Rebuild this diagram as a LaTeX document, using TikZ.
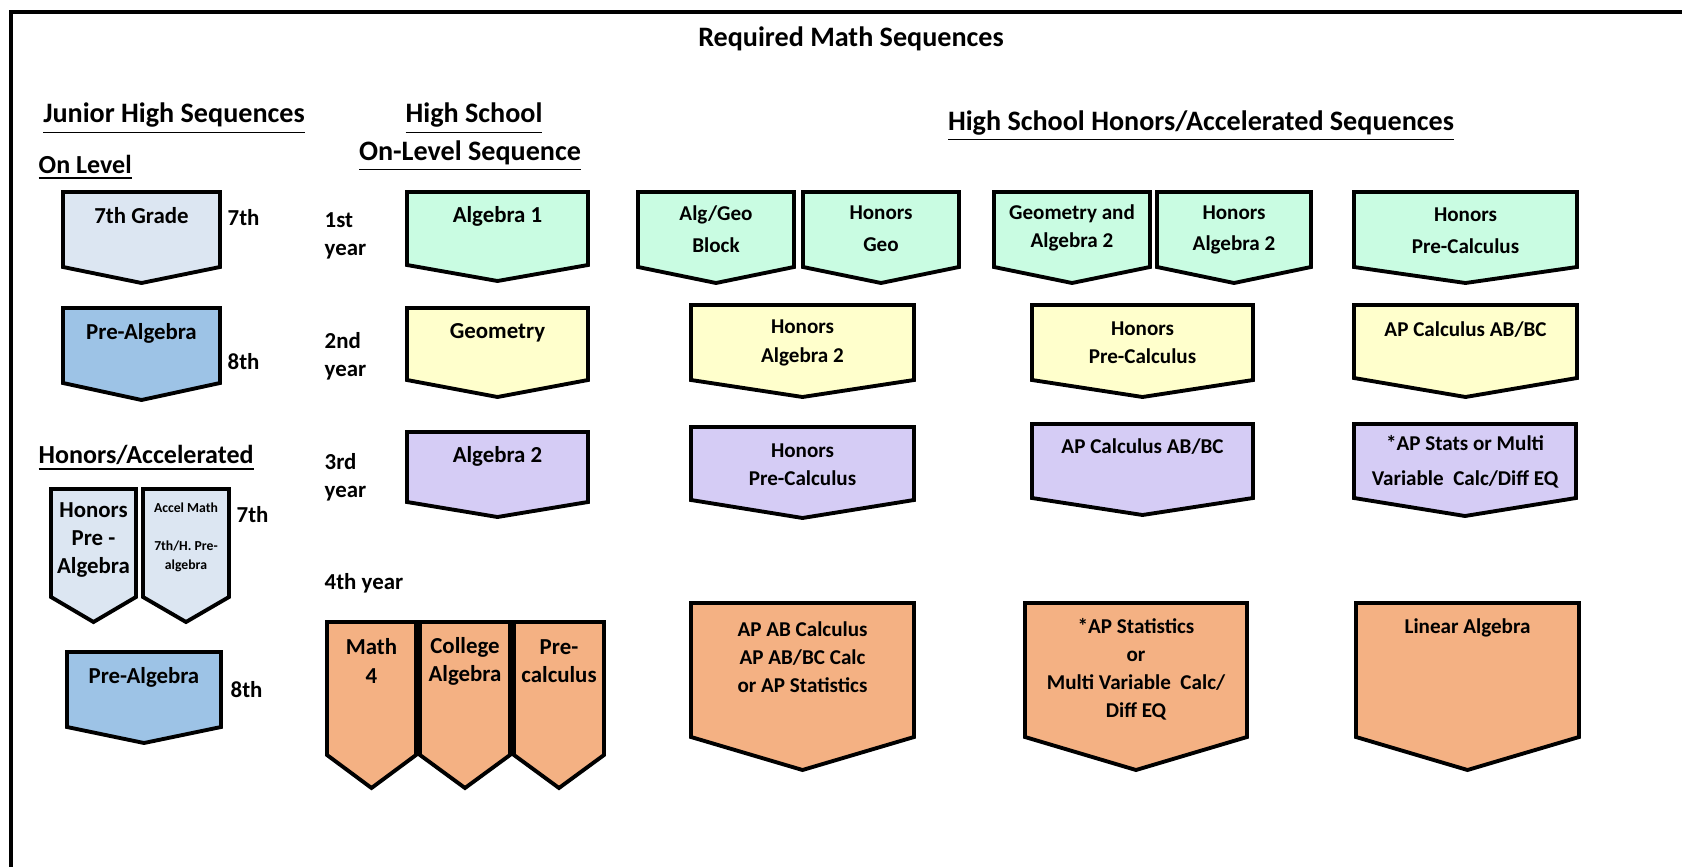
\documentclass[tikz,border=0pt]{standalone}
\usepackage{fontspec}
\setmainfont{Carlito}
\usepackage{tikz}
\usetikzlibrary{positioning}

\definecolor{lblue}{HTML}{DCE6F2}
\definecolor{mblue}{HTML}{9DC3E6}
\definecolor{mint}{HTML}{C9FCE2}
\definecolor{lyellow}{HTML}{FFFFCC}
\definecolor{lpurple}{HTML}{D5CCF5}
\definecolor{lorange}{HTML}{F4B183}

\tikzset{
  boxline/.style={draw=black, line width=1.1pt, line join=miter},
  boxtext/.style={align=center, inner sep=0pt, font=\bfseries\fontsize{6.5}{8}\selectfont},
  smalltext/.style={boxtext, font=\bfseries\fontsize{6}{8}\selectfont},
  yeartext/.style={anchor=west, align=left, inner sep=0pt, font=\bfseries\fontsize{6.5}{8}\selectfont},
  headtext/.style={anchor=base, inner sep=0pt, font=\bfseries\fontsize{8}{9}\selectfont},
  subhead/.style={anchor=base west, inner sep=0pt, font=\bfseries\fontsize{7.4}{9}\selectfont}
}

% name, fill, left, right, top, side bottom, tip, text y, text
\newcommand{\seqbox}[9]{%
  \draw[boxline, fill=#2] (#3,#5) -- (#4,#5) -- (#4,#6) -- ({(#3+#4)/2},#7) -- (#3,#6) -- cycle;
  \node[boxtext] (#1) at ({(#3+#4)/2},#8) {#9};
}
\newcommand{\honbox}[9]{%
  \draw[boxline, fill=#2] (#3,#5) -- (#4,#5) -- (#4,#6) -- ({(#3+#4)/2},#7) -- (#3,#6) -- cycle;
  \node[smalltext] (#1) at ({(#3+#4)/2},#8) {#9};
}

\begin{document}
\begin{tikzpicture}[x=0.01cm, y=-0.01cm]
	\useasboundingbox (0,0) rectangle (1682,867);
	\draw[line width=1.2pt] (11,867) -- (11,12) -- (1682,12);

	\node(title)	[headtext] at (851,47) {Required Math Sequences};
	\node(jhs)	[headtext] at (174,123) {\underline{Junior High Sequences}};
	\node(hs)	[headtext] at (474,123) {\underline{High School}};
	\node(onseq)	[headtext] at (470,160) {\underline{On-Level Sequence}};
	\node(honseq)	[headtext] at (1201,130) {\underline{High School Honors/Accelerated Sequences}};
	\node(onlevel)	[subhead] at (38,173) {\underline{On Level}};
	\node(honacc)	[subhead] at (38,463) {\underline{Honors/Accelerated}};

	\node(g7a)	[yeartext] at (227,218) {7th};
	\node(g8a)	[yeartext] at (227,362) {8th};
	\node(g7b)	[yeartext] at (236,515) {7th};
	\node(g8b)	[yeartext] at (230,690) {8th};
	\node(y1)	[yeartext] at (324,236) {1st\\year};
	\node(y2)	[yeartext] at (324,356) {2nd\\year};
	\node(y3)	[yeartext] at (324,477) {3rd\\year};
	\node(y4)	[yeartext] at (324,583) {4th year};

	\seqbox{sevgrade}{lblue}{63}{220}{192}{267}{283}{216}{7th Grade}
	\seqbox{prealga}{mblue}{63}{220}{308}{383}{400}{333}{Pre-Algebra}
	\seqbox{hprealg}{lblue}{51}{136}{489}{597}{622}{540}{Honors\\Pre -\\Algebra}
	\draw[boxline, fill=lblue] (143,489) -- (229,489) -- (229,597) -- (186,622) -- (143,597) -- cycle;
	\node(accel)	[boxtext, font=\bfseries\fontsize{3.9}{5.4}\selectfont] at (186,537) {Accel Math\\[5.4pt]7th/H. Pre-\\algebra};
	\seqbox{prealgb}{mblue}{67}{221}{652}{727}{743}{677}{Pre-Algebra}

	\seqbox{algone}{mint}{407}{588}{192}{265}{281}{216}{Algebra 1}
	\seqbox{geom}{lyellow}{407}{588}{308}{380}{397}{333}{Geometry}
	\seqbox{algtwo}{lpurple}{407}{588}{432}{502}{517}{456}{Algebra 2}
	\seqbox{mathfour}{lorange}{327}{416}{622}{755}{788}{661}{Math\\4}
	\seqbox{colalg}{lorange}{420}{510}{622}{755}{788}{661}{College\\Algebra}
	\seqbox{precalc}{lorange}{514}{604}{622}{755}{788}{661}{Pre-\\calculus}

	\honbox{alggeo}{mint}{638}{794}{192}{267}{283}{229}{Alg/Geo\\[1pt]Block}
	\honbox{hgeo}{mint}{803}{959}{192}{267}{283}{229}{Honors\\[1pt]Geo}
	\honbox{halgtwoy}{lyellow}{691}{914}{305}{380}{397}{343}{Honors\\Algebra 2}
	\honbox{hprecalcp}{lpurple}{691}{914}{427}{500}{518}{465}{Honors\\Pre-Calculus}
	\honbox{apab}{lorange}{691}{914}{603}{737}{770}{657}{AP AB Calculus\\AP AB/BC Calc\\or AP Statistics}

	\honbox{geoalg}{mint}{994}{1150}{192}{267}{283}{228}{Geometry and\\Algebra 2}
	\honbox{halgtwom}{mint}{1157}{1311}{192}{267}{283}{230}{Honors\\[1pt]Algebra 2}
	\honbox{hprecalcy}{lyellow}{1032}{1253}{305}{380}{397}{343}{Honors\\Pre-Calculus}
	\honbox{apcalcp}{lpurple}{1032}{1253}{424}{498}{515}{447}{AP Calculus AB/BC}
	\honbox{apstatso}{lorange}{1025}{1247}{603}{737}{770}{669}{*AP Statistics\\or\\Multi Variable\ \ Calc/\\Diff EQ}

	\honbox{hprecalcm}{mint}{1354}{1577}{192}{267}{283}{231}{Honors\\[1pt]Pre-Calculus}
	\honbox{apcalcy}{lyellow}{1354}{1577}{305}{378}{397}{330}{AP Calculus AB/BC}
	\honbox{apstatsp}{lpurple}{1354}{1576}{424}{498}{516}{462}{*AP Stats or Multi\\[2pt]Variable\ \ Calc/Diff EQ}
	\honbox{linalg}{lorange}{1356}{1579}{603}{737}{770}{628}{Linear Algebra}
\end{tikzpicture}
\end{document}
